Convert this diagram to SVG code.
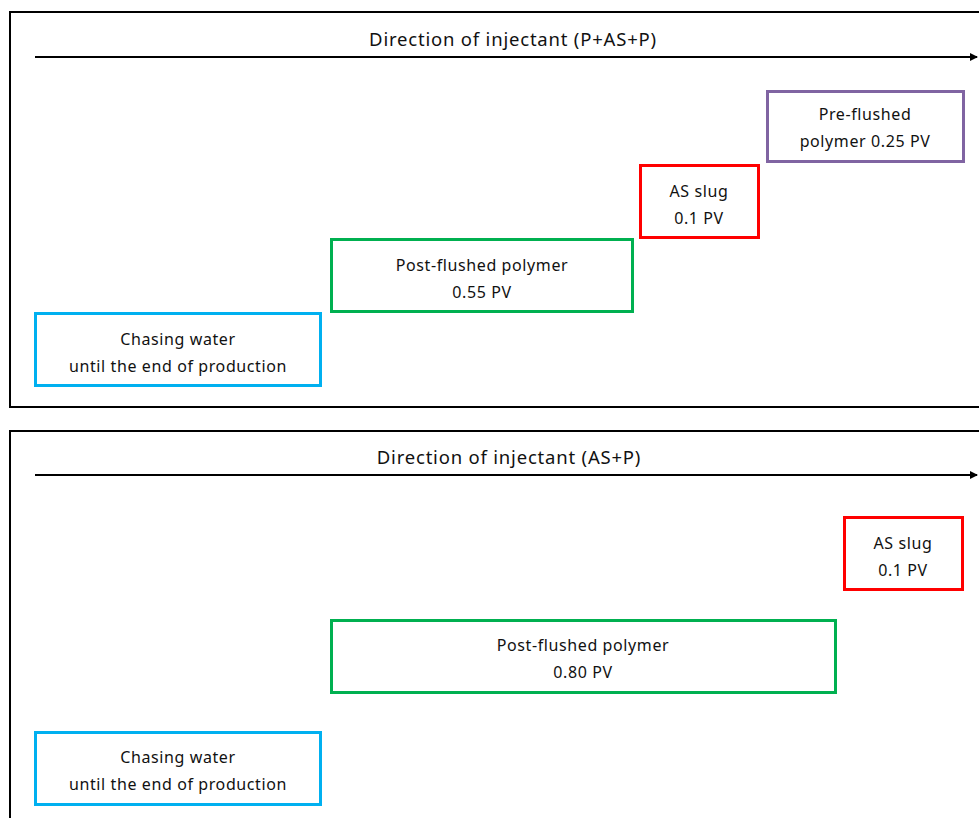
<svg xmlns="http://www.w3.org/2000/svg" width="979" height="818" viewBox="0 0 979 818">
  <defs>
    <marker id="arrowhead" markerWidth="8" markerHeight="8" refX="7" refY="4" orient="auto" markerUnits="userSpaceOnUse">
      <path d="M0,0 L8,4 L0,8 Z" fill="#000"/>
    </marker>
    <style>
      .frame { fill: #fff; stroke: #000; stroke-width: 2; }
      .dir { stroke: #000; stroke-width: 2; fill: none; }
      .box { fill: #fff; stroke-width: 3; }
      .purple { stroke: #8064A2; }
      .red { stroke: #FF0000; }
      .green { stroke: #00B050; }
      .blue { stroke: #00B0F0; }
      text { font-family: "Noto Sans", "DejaVu Sans", sans-serif; font-size: 16px; letter-spacing: 0.6px; fill: #111; text-anchor: middle; }
      .title { font-size: 18.5px; letter-spacing: 0.8px; }
    </style>
  </defs>
  <rect width="979" height="818" fill="#fff"/>

  <!-- Panel 1: P+AS+P -->
  <rect class="frame" x="10" y="12" width="980" height="395"/>
  <!-- Panel 2: AS+P -->
  <rect class="frame" x="10" y="431" width="980" height="400"/>

  <g id="connectors">
    <line class="dir" x1="35" y1="57" x2="977" y2="57" marker-end="url(#arrowhead)"/>
    <line class="dir" x1="35" y1="475" x2="977" y2="475" marker-end="url(#arrowhead)"/>
  </g>

  <g id="title-top"><text class="title" x="513" y="46">Direction of injectant (P+AS+P)</text></g>
  <g id="title-bottom"><text class="title" x="509" y="464">Direction of injectant (AS+P)</text></g>

  <g id="preflush-top">
    <rect class="box purple" x="767.5" y="91.5" width="196" height="70"/>
    <text x="865" y="120">Pre-flushed</text>
    <text x="865" y="147">polymer 0.25 PV</text>
  </g>
  <g id="asslug-top">
    <rect class="box red" x="640.5" y="165.5" width="118" height="72"/>
    <text x="699" y="197">AS slug</text>
    <text x="699" y="224">0.1 PV</text>
  </g>
  <g id="postflush-top">
    <rect class="box green" x="331.5" y="239.5" width="301" height="72"/>
    <text x="482" y="271">Post-flushed polymer</text>
    <text x="482" y="298">0.55 PV</text>
  </g>
  <g id="chase-top">
    <rect class="box blue" x="35.5" y="313.5" width="285" height="72"/>
    <text x="178" y="345">Chasing water</text>
    <text x="178" y="372">until the end of production</text>
  </g>

  <g id="asslug-bottom">
    <rect class="box red" x="844.5" y="517.5" width="118" height="72"/>
    <text x="903" y="549">AS slug</text>
    <text x="903" y="576">0.1 PV</text>
  </g>
  <g id="postflush-bottom">
    <rect class="box green" x="331.5" y="620.5" width="504" height="72"/>
    <text x="583" y="651">Post-flushed polymer</text>
    <text x="583" y="678">0.80 PV</text>
  </g>
  <g id="chase-bottom">
    <rect class="box blue" x="35.5" y="732.5" width="285" height="72"/>
    <text x="178" y="763">Chasing water</text>
    <text x="178" y="790">until the end of production</text>
  </g>
</svg>
